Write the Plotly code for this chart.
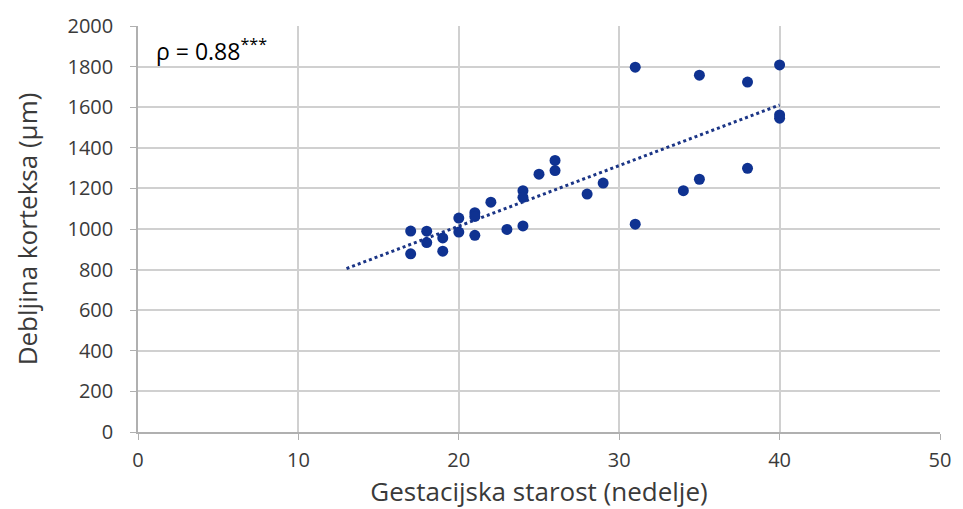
import numpy as np
import plotly.graph_objects as go

weeks = [17, 17, 18, 18, 19, 19, 20, 20, 21, 21, 21, 22, 23, 24, 24, 24, 25, 26, 26,
         28, 29, 31, 31, 34, 35, 35, 38, 38, 40, 40, 40]
thickness = [990, 878, 989, 933, 956, 891, 1054, 985, 1080, 1062, 969, 1132, 998, 1189, 1156, 1015,
             1270, 1338, 1288, 1172, 1226, 1797, 1024, 1189, 1758, 1245, 1724, 1299, 1808, 1562, 1546]
trend_x = [13, 40]

slope, intercept = np.polyfit(weeks, thickness, 1)
trend_y = [slope * v + intercept for v in trend_x]

FONT = "Open Sans"
fig = go.Figure()
fig.add_trace(go.Scatter(x=trend_x, y=trend_y, mode="lines",
                         line=dict(color="#1b3586", width=3, dash="dot"),
                         hoverinfo="skip", showlegend=False))
fig.add_trace(go.Scatter(x=weeks, y=thickness, mode="markers",
                         marker=dict(color="#0f3291", size=11),
                         showlegend=False))

fig.update_layout(
    width=963, height=509,
    margin=dict(l=138, r=16, t=22, b=77),
    paper_bgcolor="white", plot_bgcolor="white",
    font=dict(family=FONT, color="#3a3a3a", size=20),
    annotations=[dict(x=1, y=1880, xref="x", yref="y", xanchor="left", yanchor="middle",
                      text="ρ = 0.88<sup>***</sup>", showarrow=False,
                      font=dict(family=FONT, size=23, color="#000000"))],
)
fig.update_xaxes(range=[0, 50], tickvals=[0, 10, 20, 30, 40, 50],
                 showgrid=True, gridcolor="#d0d0d0", gridwidth=1.5,
                 showline=True, linecolor="#b0b0b0", linewidth=1.5,
                 ticks="outside", ticklen=6, tickcolor="#b0b0b0",
                 zeroline=False, ticklabelstandoff=3,
                 title=dict(text="Gestacijska starost (nedelje)", font=dict(size=26, color="#3a3a3a"), standoff=5))
fig.update_yaxes(range=[0, 2000], tickvals=list(range(0, 2001, 200)),
                 showgrid=True, gridcolor="#d0d0d0", gridwidth=1.5,
                 showline=True, linecolor="#b0b0b0", linewidth=1.5,
                 ticks="outside", ticklen=6, tickcolor="#b0b0b0",
                 zeroline=False, ticklabelstandoff=13,
                 title=dict(text="Debljina korteksa (µm)", font=dict(size=26, color="#3a3a3a"), standoff=22))
fig.write_html("out.html")
